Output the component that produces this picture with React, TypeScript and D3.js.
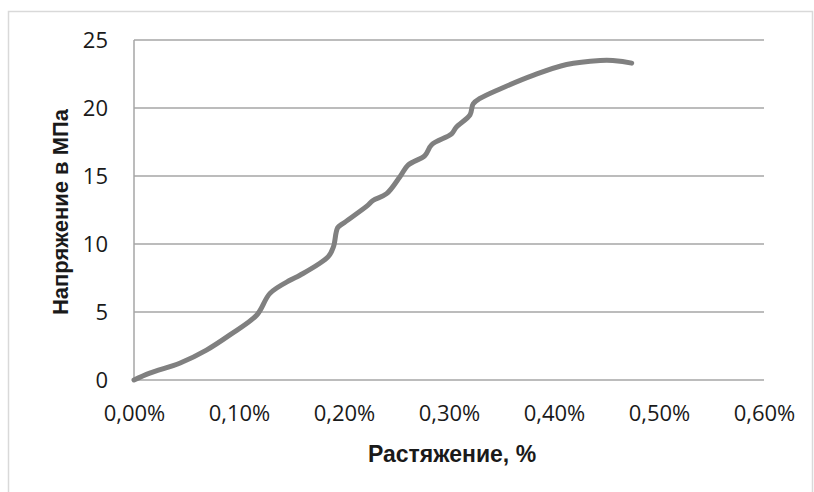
import { useEffect, useRef } from "react";
import * as d3 from "d3";

// strain, % (x) and stress, MPa (y)
const strain = [
    0, 0.015, 0.044, 0.069, 0.091, 0.117, 0.1295, 0.149, 0.158, 0.185, 0.19,
    0.194, 0.199, 0.222, 0.2276, 0.2406, 0.2533, 0.261, 0.277, 0.2835, 0.3025,
    0.307, 0.32, 0.323, 0.3295, 0.3486, 0.38, 0.412, 0.444, 0.456, 0.474,
];
const stress = [
    0, 0.5, 1.25, 2.2, 3.3, 4.78, 6.37, 7.35, 7.7, 9.07, 9.8, 11.2, 11.5,
    12.8, 13.2, 13.7, 14.95, 15.8, 16.5, 17.3, 18.1, 18.6, 19.5, 20.3, 20.7,
    21.4, 22.4, 23.2, 23.5, 23.5, 23.3,
];
const yTicks = [0, 5, 10, 15, 20, 25];
const xTicks = [0, 0.1, 0.2, 0.3, 0.4, 0.5, 0.6];

const width = 814;
const height = 492;
const marginLeft = 134;
const marginRight = 50;
const marginTop = 40;
const marginBottom = 112;

const App = () => {
    const svgRef = useRef<SVGSVGElement>(null);

    useEffect(() => {
        if (!svgRef.current) return;
        const svg = d3.select(svgRef.current);

        const x = d3.scaleLinear([0, 0.6], [marginLeft, width - marginRight]);
        const y = d3.scaleLinear([0, 25], [height - marginBottom, marginTop]);

        // chart frame
        svg.append("rect")
            .attr("x", 8.5)
            .attr("y", 11.5)
            .attr("width", 804)
            .attr("height", 500)
            .attr("fill", "none")
            .attr("stroke", "#d9d9d9")
            .attr("stroke-width", 1.5);

        // gridlines
        svg.append("g")
            .selectAll("line")
            .data(yTicks)
            .join("line")
            .attr("x1", marginLeft)
            .attr("x2", width - marginRight)
            .attr("y1", (d) => y(d))
            .attr("y2", (d) => y(d))
            .attr("stroke", "#a6a6a6")
            .attr("stroke-width", 1.5);

        svg.append("line")
            .attr("x1", marginLeft)
            .attr("x2", marginLeft)
            .attr("y1", y(25))
            .attr("y2", y(0))
            .attr("stroke", "#a6a6a6")
            .attr("stroke-width", 1.5);

        const font = "'Open Sans', sans-serif";

        svg.append("g")
            .attr("transform", `translate(${marginLeft - 26},0)`)
            .call(d3.axisLeft(y).tickValues(yTicks).tickSize(0).tickPadding(0))
            .call((g) => g.select(".domain").remove())
            .call((g) =>
                g
                    .selectAll("text")
                    .attr("font-family", font)
                    .attr("font-size", 22)
                    .attr("fill", "#1a1a1a")
            );

        svg.append("g")
            .attr("transform", `translate(0,${height - marginBottom + 25})`)
            .call(
                d3
                    .axisBottom(x)
                    .tickValues(xTicks)
                    .tickSize(0)
                    .tickPadding(0)
                    .tickFormat((d) => (d as number).toFixed(2).replace(".", ",") + "%")
            )
            .call((g) => g.select(".domain").remove())
            .call((g) =>
                g
                    .selectAll("text")
                    .attr("font-family", font)
                    .attr("font-size", 22)
                    .attr("fill", "#1a1a1a")
            );

        const line = d3
            .line<number>()
            .x((d) => x(d))
            .y((_, i) => y(stress[i]))
            .curve(d3.curveCatmullRom);

        svg.append("path")
            .attr("fill", "none")
            .attr("stroke", "#808080")
            .attr("stroke-width", 5)
            .attr("stroke-linecap", "round")
            .attr("stroke-linejoin", "round")
            .attr("d", line(strain));

        svg.append("text")
            .attr("x", 452)
            .attr("y", 462)
            .attr("text-anchor", "middle")
            .attr("font-family", "'Liberation Sans', Arial, sans-serif")
            .attr("font-weight", "bold")
            .attr("font-size", 23)
            .attr("fill", "#1a1a1a")
            .text("Растяжение, %");

        svg.append("text")
            .attr("transform", "translate(68,212) rotate(-90)")
            .attr("text-anchor", "middle")
            .attr("font-family", "'Liberation Sans', Arial, sans-serif")
            .attr("font-weight", "bold")
            .attr("font-size", 22)
            .attr("fill", "#1a1a1a")
            .text("Напряжение в МПа");

        return () => {
            svg.selectAll("*").remove();
        };
    }, []);

    return (
        <svg
            ref={svgRef}
            width={width}
            height={height}
            style={{ position: "absolute", left: 0, top: 0, background: "#fff" }}
        />
    );
};

export default App;
